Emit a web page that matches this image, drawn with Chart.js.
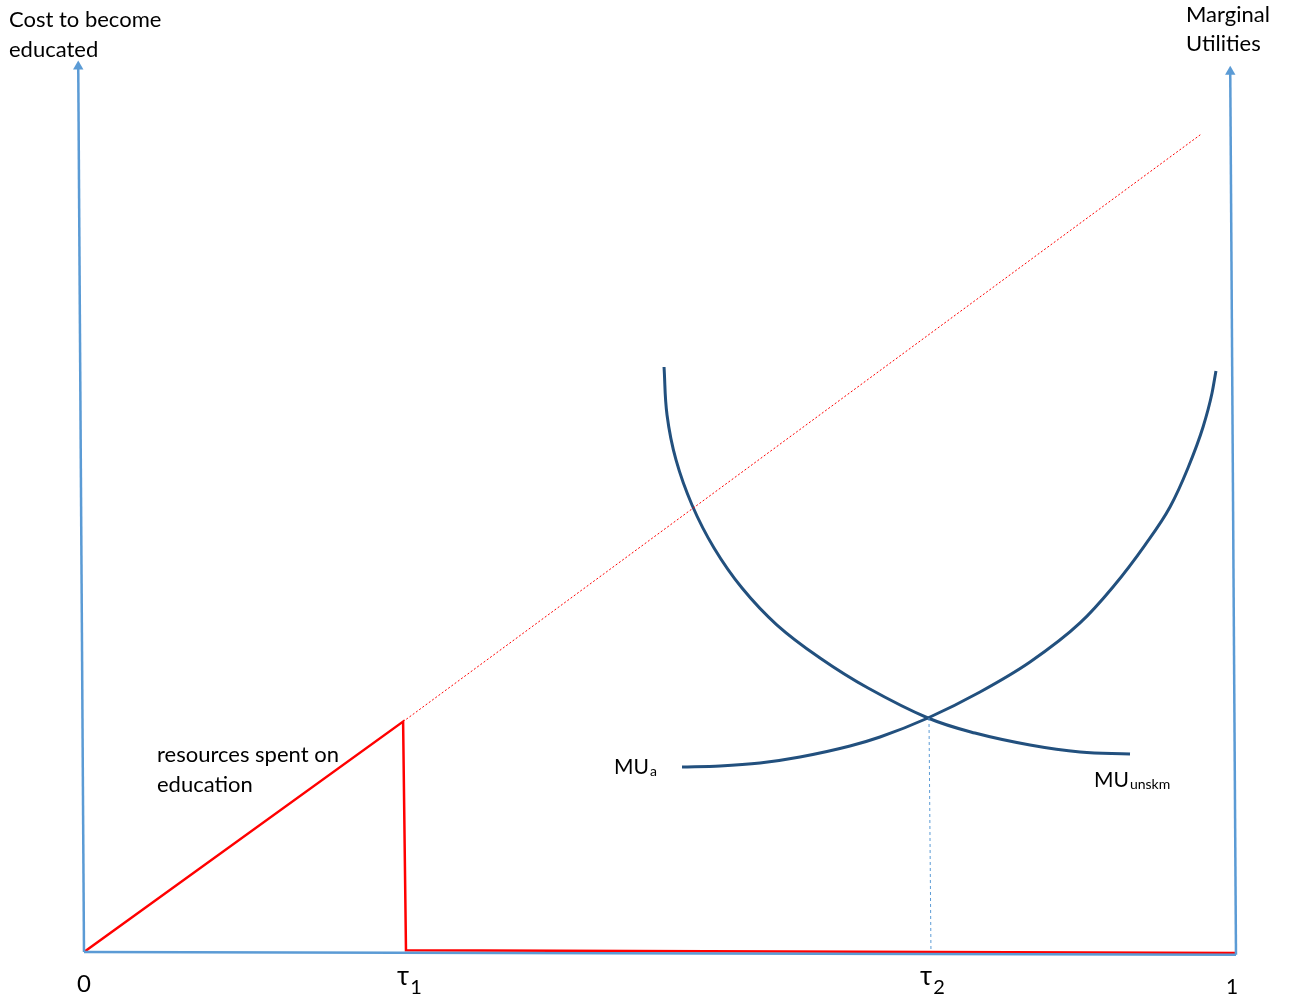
<!DOCTYPE html>
<html>
<head>
<meta charset="utf-8">
<script src="https://cdn.jsdelivr.net/npm/chart.js@4.4.1/dist/chart.umd.min.js"></script>
<style>
  html, body { margin: 0; padding: 0; background: #fff; }
  #wrap { width: 1289px; height: 1000px; position: relative; }
</style>
</head>
<body>
<div id="wrap"><canvas id="myChart"></canvas></div>
<script>
// x: share of population (0..1), y: cost / marginal utility (0..100)
var costLine = [[0, 0], [0.277, 25.6], [0.2795, 0.2], [1, -0.1]];
var costExtension = [[0.277, 25.6], [0.969, 90.8]];
var muUnskm = [
  [0.5035, 65.0], [0.5061, 59.67], [0.5139, 54.67], [0.5278, 49.67], [0.5469, 44.89],
  [0.5712, 40.44], [0.6016, 36.33], [0.6389, 32.67], [0.6806, 29.33], [0.7326, 26.0],
  [0.7734, 24.33], [0.8212, 23.0], [0.8646, 22.22], [0.908, 22.0]
];
var muA = [
  [0.5191, 20.56], [0.5521, 20.67], [0.5868, 21.0], [0.6215, 21.67], [0.6649, 22.89],
  [0.691, 23.89], [0.7326, 26.0], [0.7778, 28.89], [0.8212, 32.22], [0.8646, 36.56],
  [0.8932, 40.56], [0.921, 45.22], [0.9427, 49.44], [0.9583, 53.78], [0.9714, 58.33],
  [0.9792, 62.11], [0.9826, 64.56]
];
var tau2Drop = [[0.7335, 26.0], [0.7352, 0.2]];
var leftAxis = [[0, 0], [-0.005, 98.4]];
var rightAxis = [[1, -0.3], [0.995, 97.8]];
var bottomAxis = [[0, 0], [1, -0.3]];

var tickValues = [0, 0.2795, 0.7335, 1];
var tickLabels = ['0', 'τ', 'τ', '1'];
var tickSubs = ['', '1', '2', ''];

function pts(arr) {
  return arr.map(function (p) { return { x: p[0], y: p[1] }; });
}

var FONT = 'Lato, "Open Sans", sans-serif';

// draws axis titles, curve labels and the x tick labels as text
var labelPlugin = {
  id: 'labels',
  afterDraw: function (chart) {
    var c = chart.ctx;
    var xs = chart.scales.x;
    c.save();
    c.fillStyle = '#000';
    c.textBaseline = 'alphabetic';

    function txt(s, x, y, size, align) {
      c.font = size + 'px ' + FONT;
      c.textAlign = align || 'left';
      c.fillText(s, x, y);
      return c.measureText(s).width;
    }
    function withSub(s, sub, x, y, size, subSize, drop) {
      var w = txt(s, x, y, size);
      txt(sub, x + w + 1, y + drop, subSize);
    }

    txt('Cost to become', 9, 27, 22);
    txt('educated', 9, 57, 22);
    txt('Marginal', 1186, 22, 22);
    txt('Utilities', 1186, 51, 22);
    txt('resources spent on', 157, 762, 22);
    txt('education', 157, 792, 22);
    withSub('MU', 'a', 614, 774, 21, 14, 2);
    withSub('MU', 'unskm', 1094, 787, 21, 14, 2);

    var base = chart.chartArea.bottom + 40;
    tickValues.forEach(function (v, i) {
      var px = xs.getPixelForValue(v);
      if (tickSubs[i]) {
        c.font = '26px ' + FONT;
        var w = c.measureText(tickLabels[i]).width;
        c.font = '20px ' + FONT;
        var w2 = c.measureText(tickSubs[i]).width;
        var x0 = px - (w + w2) / 2 + 3;
        txt(tickLabels[i], x0, base - 7, 26);
        txt(tickSubs[i], x0 + w + 1, base + 2, 20);
      } else {
        txt(tickLabels[i], i === 0 ? px : px - 4, base + (i === 0 ? 0 : 2), i === 0 ? 24 : 21, 'center');
      }
    });
    c.restore();
  }
};

function line(data, color, width, dash, arrow) {
  return {
    data: pts(data),
    showLine: true,
    borderColor: color,
    backgroundColor: color,
    borderWidth: width,
    borderDash: dash || [],
    pointRadius: arrow ? data.map(function (p, i) { return i === data.length - 1 ? 6 : 0; }) : 0,
    pointStyle: 'triangle',
    pointBorderWidth: 0,
    tension: 0,
    clip: false
  };
}

var blue = '#5B9BD5';
var navy = '#22507E';
var red = '#FF0000';

var muUnskmSet = line(muUnskm, navy, 3);
muUnskmSet.tension = 0.4;
var muASet = line(muA, navy, 3);
muASet.cubicInterpolationMode = 'monotone';

var ctx = document.getElementById('myChart').getContext('2d');
var myChart = new Chart(ctx, {
  type: 'scatter',
  data: {
    datasets: [
      line(tau2Drop, blue, 1, [3, 3]),
      line(costExtension, red, 1, [2, 2]),
      muUnskmSet,
      muASet,
      line(bottomAxis, blue, 2.5),
      line(leftAxis, blue, 2.5, null, true),
      line(rightAxis, blue, 2.5, null, true),
      line(costLine, red, 2.5)
    ]
  },
  options: {
    responsive: true,
    maintainAspectRatio: false,
    animation: false,
    layout: { padding: { left: 84, right: 53, top: 52, bottom: 48 } },
    scales: {
      x: { type: 'linear', min: 0, max: 1, display: false },
      y: { type: 'linear', min: 0, max: 100, display: false }
    },
    plugins: {
      legend: { display: false },
      tooltip: { enabled: false }
    }
  },
  plugins: [labelPlugin]
});
</script>
</body>
</html>
